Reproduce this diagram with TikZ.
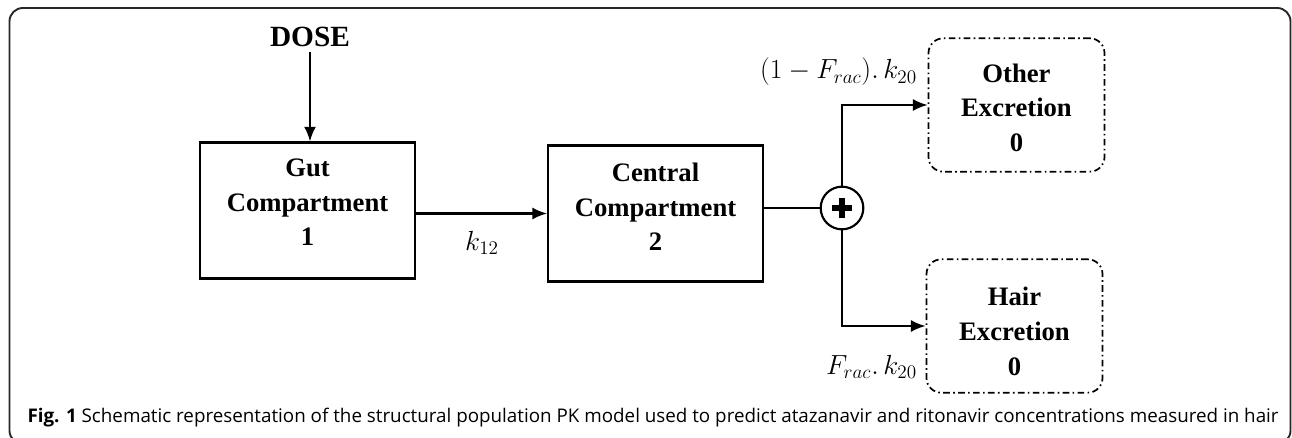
\documentclass[tikz,border=0pt]{standalone}
\usepackage{fontspec}
\setmainfont{Liberation Serif}
\newfontfamily\captionfont{Open Sans}
\usetikzlibrary{arrows.meta}

\begin{document}
\begin{tikzpicture}[x=0.75pt, y=-0.75pt,
  line width=1.6pt,
  every node/.style={font=\fontsize{20}{26}\selectfont},
  boxtext/.style={align=center, font=\fontsize{20}{26}\selectfont\bfseries},
  comp/.style={draw, minimum width=161pt, minimum height=102pt, inner sep=0pt},
  sink/.style={draw, rounded corners=11pt, line width=1.3pt,
    dash pattern=on 5pt off 2.5pt on 1.2pt off 2.5pt,
    minimum width=132pt, minimum height=100pt, inner sep=0pt},
  flow/.style={-{Latex[length=11pt,width=9pt]}},
  summer/.style={draw, circle, minimum size=32pt, inner sep=0pt,
    path picture={
      \draw[line width=4.4pt] ([xshift=-7.5pt]path picture bounding box.center) -- ([xshift=7.5pt]path picture bounding box.center);
      \draw[line width=4.4pt] ([yshift=-7.5pt]path picture bounding box.center) -- ([yshift=7.5pt]path picture bounding box.center);
    }}
]
\useasboundingbox (0,0) rectangle (1292,438);
\begin{scope}
\clip (0,0) rectangle (1292,438);
\draw[line width=1.4pt, rounded corners=10pt, black!85] (9.5,8) rectangle (1290.5,444);
\end{scope}

% compartments
\node[boxtext, font=\fontsize{22}{26}\selectfont\bfseries] (dose) at (310,37) {DOSE};
\node[comp, label={[boxtext, yshift=6pt]center:{Gut\\Compartment\\1}}] (gut) at (307.5,210.5) {};
\node[comp, label={[boxtext, yshift=5pt]center:{Central\\Compartment\\2}}] (central) at (655.5,213.5) {};
\node[summer] (sum) at (842,208) {};
\node[sink, label={[boxtext, yshift=-2pt]center:{Other\\Excretion\\0}}] (other) at (1016.5,105) {};
\node[sink, label={[boxtext, yshift=-4pt]center:{Hair\\Excretion\\0}}] (hair) at (1014.5,326) {};

% rates
\node (k12) at (482,243) {$k_{12}$};
\node[anchor=east, inner sep=0pt] (kother) at (918,72) {$(1-F_{rac}).\,k_{20}$};
\node[anchor=east, inner sep=0pt] (khair) at (918,367) {$F_{rac}.\,k_{20}$};

\draw[flow] (dose) -- (dose |- gut.north);
\draw[flow] (gut.east |- central.west) -- (central.west);
\draw (central.east |- sum.west) -- (sum.west);
\draw[flow] (sum.north) |- (other.west);
\draw[flow] (sum.south) |- (hair.west);

% caption
\node[anchor=west, font=\captionfont\fontsize{14.1}{17}\selectfont] (caption) at (22,418)
  {\textbf{Fig. 1} Schematic representation of the structural population PK model used to predict atazanavir and ritonavir concentrations measured in hair};
\end{tikzpicture}
\end{document}
